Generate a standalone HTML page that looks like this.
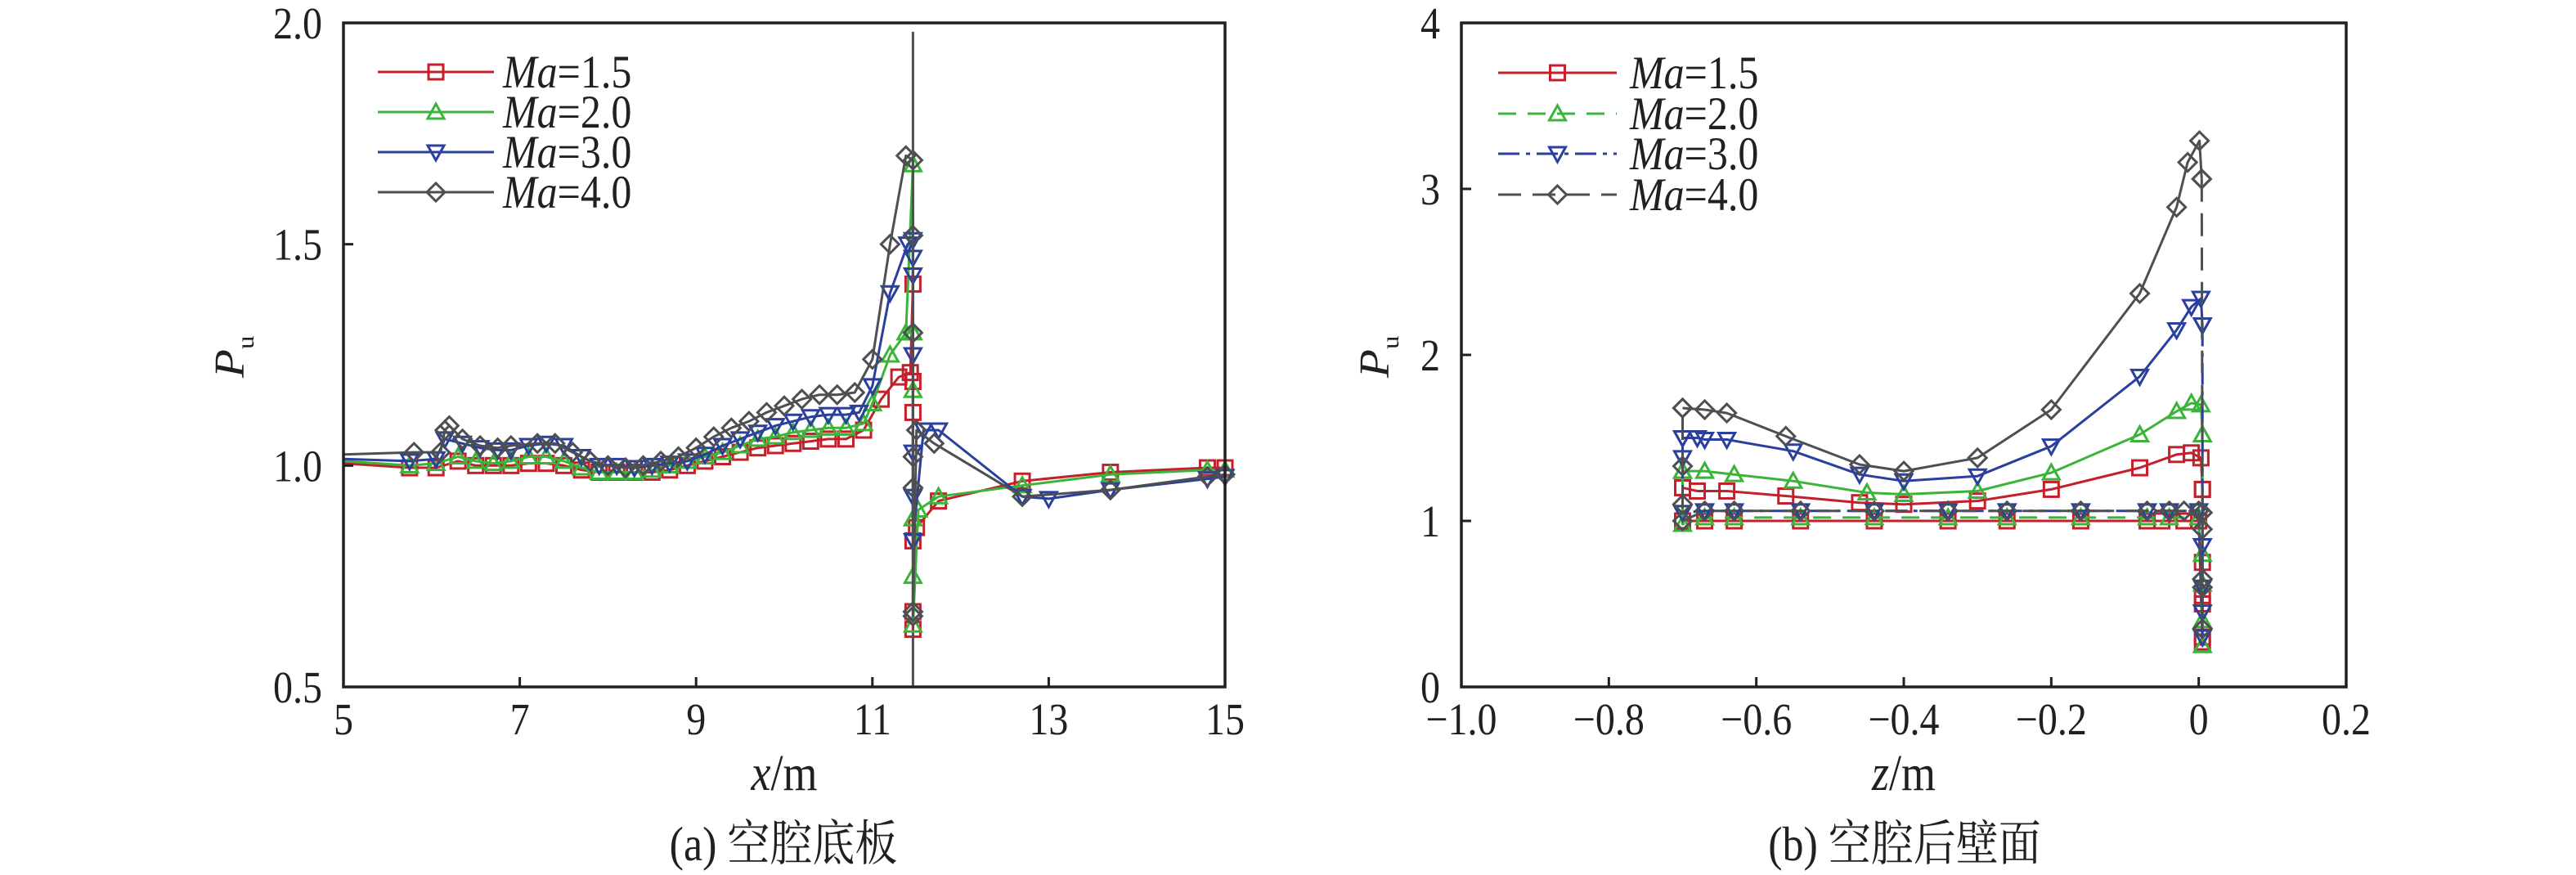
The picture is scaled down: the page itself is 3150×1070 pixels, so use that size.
<!DOCTYPE html>
<html><head><meta charset="utf-8">
<style>
html,body{margin:0;padding:0;background:#fff;}
svg{display:block;}
text{font-family:"Liberation Serif","Noto Serif CJK SC",serif;fill:#231f20;}
</style></head>
<body>
<svg id="fig" width="3150" height="1070" viewBox="0 0 3150 1070" xmlns="http://www.w3.org/2000/svg">
  <g id="panelA"></g>
  <g id="panelB"></g>
</svg>
<script>
// ---------- Panel (a) data ----------
const aXTicks = [5, 7, 9, 11, 13, 15];
const aXTickLabels = ["5", "7", "9", "11", "13", "15"];
const aYTicks = [0.5, 1.0, 1.5, 2.0];
const aYTickLabels = ["0.5", "1.0", "1.5", "2.0"];

const aMa15X = [5.0,5.75,6.05,6.3,6.5,6.7,6.9,7.1,7.3,7.5,7.7,7.9,8.1,8.3,8.5,8.7,8.9,9.1,9.3,9.5,9.7,9.9,10.1,10.3,10.5,10.7,10.9,11.1,11.3,11.43,11.46,11.46,11.46,11.46,11.46,11.46,11.5,11.75,12.7,13.7,14.8,15.0];
const aMa15Y = [1.005,0.995,0.995,1.01,1.0,1.0,1.0,1.005,1.005,1.0,0.99,0.985,0.985,0.985,0.985,0.99,1.0,1.01,1.02,1.03,1.04,1.045,1.05,1.055,1.06,1.06,1.08,1.15,1.2,1.21,1.41,1.19,1.12,0.83,0.67,0.63,0.86,0.92,0.965,0.985,0.995,0.995];
const aMa20X = [5.0,5.75,6.05,6.3,6.5,6.7,6.9,7.1,7.3,7.5,7.7,7.9,8.1,8.3,8.5,8.7,8.9,9.1,9.3,9.5,9.7,9.9,10.1,10.3,10.5,10.7,10.9,11.0,11.2,11.38,11.46,11.46,11.46,11.46,11.46,11.46,11.52,11.75,12.7,13.7,14.8,15.0];
const aMa20Y = [1.01,1.0,1.005,1.02,1.01,1.005,1.01,1.02,1.02,1.01,0.995,0.985,0.985,0.985,0.99,1.0,1.01,1.02,1.03,1.045,1.06,1.065,1.075,1.08,1.085,1.085,1.095,1.14,1.25,1.3,1.68,1.3,1.17,0.88,0.75,0.64,0.9,0.93,0.955,0.98,0.99,0.99];
const aMa30X = [5.0,5.75,6.05,6.15,6.35,6.55,6.75,6.9,7.1,7.3,7.5,7.7,7.9,8.1,8.3,8.5,8.7,8.9,9.1,9.3,9.5,9.7,9.9,10.1,10.3,10.5,10.7,10.85,11.0,11.2,11.4,11.46,11.46,11.46,11.46,11.46,11.46,11.46,11.58,11.75,12.7,13.0,13.7,14.8,15.0];
const aMa30Y = [1.015,1.01,1.015,1.06,1.05,1.04,1.035,1.035,1.045,1.05,1.045,1.02,1.0,1.0,0.995,1.0,1.005,1.01,1.025,1.045,1.06,1.075,1.09,1.1,1.11,1.115,1.115,1.12,1.18,1.39,1.5,1.51,1.47,1.43,1.25,1.03,0.93,0.83,1.08,1.08,0.93,0.925,0.945,0.97,0.975];
const aMa40X = [5.0,5.8,6.1,6.15,6.2,6.35,6.55,6.75,6.9,7.2,7.4,7.6,7.8,8.0,8.2,8.4,8.6,8.8,9.0,9.2,9.4,9.6,9.8,10.0,10.2,10.4,10.6,10.8,11.0,11.2,11.38,11.46,11.46,11.46,11.46,11.46,11.46,11.46,11.5,11.7,12.7,13.7,14.8,15.0];
const aMa40Y = [1.025,1.03,1.03,1.08,1.09,1.06,1.045,1.04,1.045,1.05,1.05,1.03,1.01,1.0,0.995,1.0,1.01,1.02,1.04,1.065,1.085,1.1,1.12,1.135,1.15,1.16,1.16,1.165,1.24,1.5,1.7,1.69,1.52,1.3,1.02,0.95,0.67,0.66,1.08,1.05,0.93,0.945,0.975,0.98];
const aCutX = [11.46, 11.46];
const aCutY = [1.98, 0.5];

// ---------- Panel (b) data ----------
const bXTicks = [-1.0, -0.8, -0.6, -0.4, -0.2, 0, 0.2];
const bXTickLabels = ["\u22121.0", "\u22120.8", "\u22120.6", "\u22120.4", "\u22120.2", "0", "0.2"];
const bYTicks = [0, 1, 2, 3, 4];
const bYTickLabels = ["0", "1", "2", "3", "4"];

const bMa15UpX = [-0.7,-0.68,-0.64,-0.56,-0.46,-0.4,-0.3,-0.2,-0.08,-0.03,-0.01,0.003,0.005];
const bMa15UpY = [1.2,1.18,1.18,1.15,1.11,1.1,1.12,1.19,1.32,1.4,1.41,1.38,1.19];
const bMa15LoX = [0.005,0.005,0.005,0.005,0.005,0.005,0.0,-0.02,-0.05,-0.07,-0.16,-0.26,-0.34,-0.44,-0.54,-0.63,-0.67,-0.7,-0.7];
const bMa15LoY = [1.19,0.75,0.55,0.5,0.3,0.27,1.0,1.0,1.0,1.0,1.0,1.0,1.0,1.0,1.0,1.0,1.0,1.0,1.2];
const bMa20UpX = [-0.7,-0.67,-0.63,-0.55,-0.45,-0.4,-0.3,-0.2,-0.08,-0.03,-0.01,0.003,0.005];
const bMa20UpY = [1.3,1.3,1.28,1.24,1.17,1.16,1.18,1.29,1.52,1.66,1.71,1.7,1.52];
const bMa20LoX = [0.005,0.005,0.005,0.005,0.005,0.0,-0.04,-0.07,-0.16,-0.26,-0.34,-0.44,-0.54,-0.63,-0.67,-0.7,-0.7];
const bMa20LoY = [1.52,0.8,0.62,0.4,0.25,1.02,1.02,1.02,1.02,1.02,1.02,1.02,1.02,1.02,1.02,0.98,1.3];
const bMa30UpX = [-0.7,-0.68,-0.67,-0.64,-0.55,-0.46,-0.4,-0.3,-0.2,-0.08,-0.03,-0.01,0.003,0.005];
const bMa30UpY = [1.5,1.5,1.49,1.49,1.42,1.28,1.24,1.27,1.45,1.87,2.15,2.29,2.34,2.18];
const bMa30LoX = [0.005,0.005,0.005,0.005,0.005,0.0,-0.04,-0.07,-0.16,-0.26,-0.34,-0.44,-0.54,-0.63,-0.67,-0.7,-0.7,-0.7];
const bMa30LoY = [2.18,0.85,0.6,0.45,0.3,1.06,1.06,1.06,1.06,1.06,1.06,1.06,1.06,1.06,1.06,1.05,1.38,1.5];
const bMa40UpX = [-0.7,-0.67,-0.64,-0.56,-0.46,-0.4,-0.3,-0.2,-0.08,-0.03,-0.015,0.001,0.004];
const bMa40UpY = [1.68,1.67,1.65,1.51,1.34,1.3,1.38,1.67,2.37,2.89,3.16,3.29,3.06];
const bMa40LoX = [0.004,0.005,0.005,0.005,0.005,0.005,0.0,-0.02,-0.04,-0.07,-0.16,-0.26,-0.34,-0.44,-0.54,-0.63,-0.67,-0.7,-0.7,-0.7,-0.7];
const bMa40LoY = [3.06,1.05,0.95,0.65,0.6,0.35,1.06,1.06,1.06,1.06,1.06,1.06,1.06,1.06,1.06,1.06,1.06,1.0,1.1,1.33,1.68];

const legendLabels = ["=1.5", "=2.0", "=3.0", "=4.0"];
const COLORS = ["#c4202b", "#3bb43a", "#2b3f9c", "#4d4f53"];
const MARKERS = ["square", "tri-up", "tri-down", "diamond"];
const NS = "http://www.w3.org/2000/svg";

function mk(tag, attrs, parent) {
  const e = document.createElementNS(NS, tag);
  for (const k in attrs) e.setAttribute(k, attrs[k]);
  parent.appendChild(e);
  return e;
}
function stretch(el, x, y) {
  el.setAttribute("x", 0);
  el.setAttribute("y", 0);
  el.setAttribute("transform", `translate(${x},${y}) scale(1,1.15)`);
}
function scale(d0, d1, r0, r1) { return v => r0 + (v - d0) / (d1 - d0) * (r1 - r0); }

function marker(g, kind, cx, cy, color) {
  const s = 9;
  let el;
  if (kind === "square") el = mk("rect", {x: cx - s, y: cy - s, width: 2 * s, height: 2 * s}, g);
  else if (kind === "tri-up") el = mk("polygon", {points: `${cx},${cy - s - 1} ${cx - s - 1},${cy + s - 1} ${cx + s + 1},${cy + s - 1}`}, g);
  else if (kind === "tri-down") el = mk("polygon", {points: `${cx},${cy + s + 1} ${cx - s - 1},${cy - s + 1} ${cx + s + 1},${cy - s + 1}`}, g);
  else el = mk("polygon", {points: `${cx},${cy - s - 2} ${cx + s + 2},${cy} ${cx},${cy + s + 2} ${cx - s - 2},${cy}`}, g);
  el.setAttribute("fill", "none");
  el.setAttribute("stroke", color);
  el.setAttribute("stroke-width", "3");
  
  
}

function series(g, xs, ys, sx, sy, idx, dash, name) {
  const sg = mk("g", {}, g);
  
  
  const pts = xs.map((x, i) => sx(x).toFixed(1) + "," + sy(ys[i]).toFixed(1)).join(" ");
  const pl = mk("polyline", {points: pts, fill: "none", stroke: COLORS[idx], "stroke-width": 3, "stroke-linejoin": "round"}, sg);
  if (dash) pl.setAttribute("stroke-dasharray", dash);
  
  
  xs.forEach((x, i) => {
    if (i === 0 && x <= sx.domain0) return;
    marker(sg, MARKERS[idx], sx(x), sy(ys[i]), COLORS[idx]);
  });
}

function axes(g, L, R, T, B, sx, sy, xt, xtl, yt, ytl, xlab, ylabX, caption, capX) {
  const fr = mk("rect", {x: L, y: T, width: R - L, height: B - T, fill: "none", stroke: "#231f20", "stroke-width": 3.5}, g);
  
  
  xt.forEach((v, i) => {
    const x = sx(v);
    const t = mk("line", {x1: x, y1: B, x2: x, y2: B - 12, stroke: "#231f20", "stroke-width": 3}, g);
    
    
    const tx = mk("text", {"font-size": 48, "text-anchor": "middle"}, g);
    stretch(tx, x, B + 58);
    tx.textContent = xtl[i];
    
    
  });
  yt.forEach((v, i) => {
    const y = sy(v);
    const t = mk("line", {x1: L, y1: y, x2: L + 12, y2: y, stroke: "#231f20", "stroke-width": 3}, g);
    
    
    const tx = mk("text", {"font-size": 48, "text-anchor": "end"}, g);
    stretch(tx, L - 26, y + 19);
    tx.textContent = ytl[i];
    
    
  });
  const xl = mk("text", {"font-size": 54, "text-anchor": "middle"}, g);
  stretch(xl, (L + R) / 2, 966);
  xl.innerHTML = '<tspan font-style="italic">' + xlab + '</tspan>/m';
  
  
  const yl = mk("text", {x: 0, y: 0, "font-size": 52, transform: `translate(${ylabX},462) rotate(-90) scale(1.1,1)`}, g);
  yl.innerHTML = '<tspan font-style="italic">P</tspan><tspan font-size="30" dy="12">u</tspan>';
  
  
  const cp = mk("text", {"font-size": 52, "text-anchor": "middle"}, g);
  stretch(cp, capX, 1052);
  cp.textContent = caption;
  
  
}

function legend(g, x0, x1, tx, ys, dashes) {
  const lg = mk("g", {}, g);
  
  
  ys.forEach((y, i) => {
    const e = mk("g", {}, lg);
    
    
    const ln = mk("line", {x1: x0, y1: y, x2: x1, y2: y, stroke: COLORS[i], "stroke-width": 3}, e);
    if (dashes[i]) ln.setAttribute("stroke-dasharray", dashes[i]);
    
    
    marker(e, MARKERS[i], (x0 + x1) / 2, y, COLORS[i]);
    const t = mk("text", {"font-size": 50}, e);
    stretch(t, tx, y + 19);
    t.innerHTML = '<tspan font-style="italic">Ma</tspan>' + legendLabels[i];
    
    
  });
}

// Panel A
(function () {
  const g = document.getElementById("panelA");
  const L = 420, R = 1498, T = 28, B = 840;
  const sx = scale(5, 15, L, R); sx.domain0 = 5;
  const sy = scale(0.5, 2.0, B, T);
  const cut = mk("polyline", {points: aCutX.map((x, i) => sx(x) + "," + sy(aCutY[i])).join(" "), fill: "none", stroke: "#4d4f53", "stroke-width": 3}, g);
  
  
  series(g, aMa15X, aMa15Y, sx, sy, 0, null, 'series-ma-1-5');
  series(g, aMa20X, aMa20Y, sx, sy, 1, null, 'series-ma-2-0');
  series(g, aMa30X, aMa30Y, sx, sy, 2, null, 'series-ma-3-0');
  series(g, aMa40X, aMa40Y, sx, sy, 3, null, 'series-ma-4-0');
  axes(g, L, R, T, B, sx, sy, aXTicks, aXTickLabels, aYTicks, aYTickLabels, "x", 298, "(a) 空腔底板", 958);
  legend(g, 462, 604, 615, [88, 137, 186, 235], [null, null, null, null]);
})();

// Panel B
(function () {
  const g = document.getElementById("panelB");
  const L = 1787, R = 2869, T = 28, B = 840;
  const sx = scale(-1.0, 0.2, L, R); sx.domain0 = -99;
  const sy = scale(0, 4, B, T);
  const dashes = [null, "22,14", "26,8,5,8", "28,14"];
  series(g, bMa15UpX, bMa15UpY, sx, sy, 0, null, 'series-ma-1-5-upper');
  series(g, bMa15LoX, bMa15LoY, sx, sy, 0, dashes[0], 'series-ma-1-5-lower');
  series(g, bMa20UpX, bMa20UpY, sx, sy, 1, null, 'series-ma-2-0-upper');
  series(g, bMa20LoX, bMa20LoY, sx, sy, 1, dashes[1], 'series-ma-2-0-lower');
  series(g, bMa30UpX, bMa30UpY, sx, sy, 2, null, 'series-ma-3-0-upper');
  series(g, bMa30LoX, bMa30LoY, sx, sy, 2, dashes[2], 'series-ma-3-0-lower');
  series(g, bMa40UpX, bMa40UpY, sx, sy, 3, null, 'series-ma-4-0-upper');
  series(g, bMa40LoX, bMa40LoY, sx, sy, 3, dashes[3], 'series-ma-4-0-lower');
  axes(g, L, R, T, B, sx, sy, bXTicks, bXTickLabels, bYTicks, bYTickLabels, "z", 1698, "(b) 空腔后壁面", 2329);
  legend(g, 1832, 1977, 1993, [89, 139, 188, 238], dashes);
})();
</script>
</body></html>
